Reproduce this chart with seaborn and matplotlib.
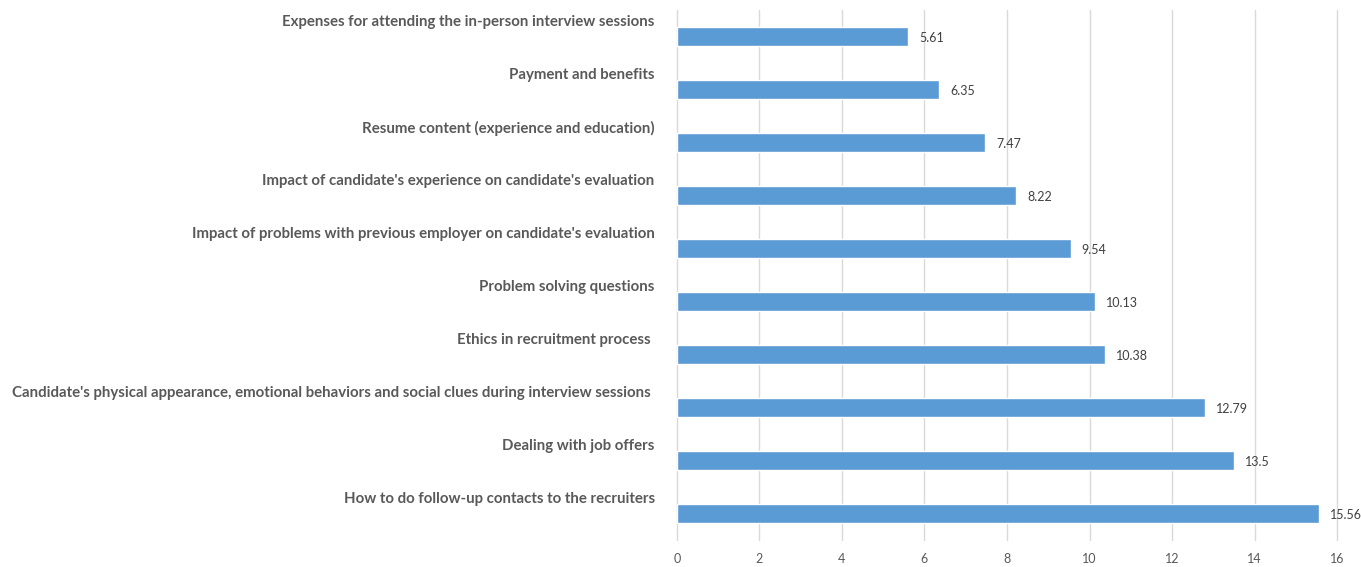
import pandas as pd
import matplotlib.pyplot as plt
import matplotlib.transforms as mtransforms
import seaborn as sns

topics = [
    "Expenses for attending the in-person interview sessions",
    "Payment and benefits",
    "Resume content (experience and education)",
    "Impact of candidate's experience on candidate's evaluation",
    "Impact of problems with previous employer on candidate's evaluation",
    "Problem solving questions",
    "Ethics in recruitment process ",
    "Candidate's physical appearance, emotional behaviors and social clues during interview sessions ",
    "Dealing with job offers",
    "How to do follow-up contacts to the recruiters",
]
scores = [5.61, 6.35, 7.47, 8.22, 9.54, 10.13, 10.38, 12.79, 13.5, 15.56]
score_labels = ["5.61", "6.35", "7.47", "8.22", "9.54", "10.13", "10.38", "12.79", "13.5", "15.56"]

df = pd.DataFrame({"Topic": topics, "Score": scores})

sns.set_style("white")
plt.rcParams['font.family'] = ['Lato', 'DejaVu Sans']

fig = plt.figure(figsize=(13.61, 5.67), dpi=100)
ax = fig.add_axes([0.4974, 0.0476, 0.4850, 0.9348])

sns.barplot(data=df, x="Score", y="Topic", order=topics, color="#5B9BD5",
            width=0.36, orient="h", ax=ax, saturation=1)

ax.set_xlim(0, 16)
ax.set_ylim(len(topics) - 0.5, -0.5)
ax.set_xticks(range(0, 17, 2))
ax.xaxis.grid(True, color="#d9d9d9", linewidth=1)
for gl in ax.xaxis.get_gridlines():
    gl.set_clip_on(False)
ax.set_axisbelow(True)
for s in ax.spines.values():
    s.set_visible(False)

ax.set_xlabel("")
ax.set_ylabel("")
ax.tick_params(axis="x", length=0, labelsize=9, labelcolor="#595959", pad=9)
ax.tick_params(axis="y", length=0, pad=16)

# category labels sit above their bar, right aligned
shift = mtransforms.ScaledTranslation(0, 16 / 100, fig.dpi_scale_trans)
for lbl in ax.get_yticklabels():
    lbl.set_fontsize(10.8)
    lbl.set_fontweight("bold")
    lbl.set_color("#595959")
    lbl.set_transform(lbl.get_transform() + shift)

for i, (v, t) in enumerate(zip(scores, score_labels)):
    ax.annotate(t, (v, i), xytext=(8, -1), textcoords="offset points",
                va="center", ha="left", fontsize=9, color="#404040")

fig.savefig("out.png", dpi=100)
